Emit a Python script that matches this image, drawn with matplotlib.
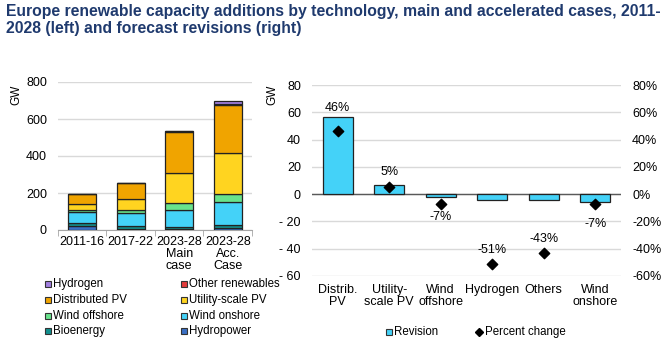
import matplotlib
matplotlib.use('Agg')
from matplotlib import pyplot as plt
from matplotlib.lines import Line2D
import numpy as np

plt.rcParams['font.family'] = ['Liberation Sans', 'DejaVu Sans']

# left chart: capacity additions (GW)
periods = ['2011-16', '2017-22', '2023-28\nMain\ncase', '2023-28\nAcc.\nCase']
hydropower = [22, 8, 6, 12]
bioenergy = [15, 14, 9, 16]
wind_onshore = [63, 72, 93, 123]
wind_offshore = [8, 16, 40, 44]
utility_pv = [32, 55, 162, 222]
distributed_pv = [55, 87, 222, 261]
other_renewables = [1, 1, 1, 2]
hydrogen = [0, 0, 0, 20]

# right chart: forecast revisions
rev_cats = ['Distrib.\nPV', 'Utility-\nscale PV', 'Wind\noffshore', 'Hydrogen', 'Others', 'Wind\nonshore']
revision = [56.5, 6.5, -2.2, -4, -4.5, -6]
pct_change = [46, 5, -7, -51, -43, -7]

series = [
    ('Hydropower', hydropower, '#3a6fc4'),
    ('Bioenergy', bioenergy, '#12908e'),
    ('Wind onshore', wind_onshore, '#44d2f8'),
    ('Wind offshore', wind_offshore, '#68e38c'),
    ('Utility-scale PV', utility_pv, '#ffd420'),
    ('Distributed PV', distributed_pv, '#f0a400'),
    ('Other renewables', other_renewables, '#e23b3b'),
    ('Hydrogen', hydrogen, '#a27fe0'),
]

W, H = 666, 348
fig = plt.figure(figsize=(6.66, 3.48), dpi=100)

fig.text(6/W, 1-4/H, 'Europe renewable capacity additions by technology, main and accelerated cases, 2011-\n'
         '2028 (left) and forecast revisions (right)',
         fontsize=11.3, fontweight='bold', color='#1f3a6e', va='top', ha='left', linespacing=1.2)

# ---- left
ax1 = fig.add_axes([58/W, 1-230/H, (252-58)/W, (230-82)/H])
x = np.arange(len(periods))
bottom = np.zeros(len(periods))
colors = {}
for name, vals, col in series:
    ax1.bar(x, vals, 0.58, bottom=bottom, color=col, edgecolor='#222222', linewidth=0.9, zorder=3)
    bottom += np.array(vals)
    colors[name] = col
ax1.set_ylim(0, 800)
ax1.set_xlim(-0.5, 3.5)
ax1.set_yticks([0, 200, 400, 600, 800])
ax1.yaxis.grid(True, color='#d9d9d9', linewidth=1)
ax1.set_axisbelow(True)
for s in ['top', 'right', 'left']:
    ax1.spines[s].set_visible(False)
ax1.spines['bottom'].set_color('#a6a6a6')
ax1.set_xticks(x)
ax1.set_xticklabels(periods, fontsize=9, linespacing=1.0)
ax1.tick_params(axis='x', length=0, pad=4)
ax1.set_xticks(np.arange(-0.5, 4, 1), minor=True)
ax1.tick_params(axis='x', which='minor', length=4, color='#a6a6a6')
ax1.tick_params(axis='y', length=0, labelsize=9, pad=8)
fig.text(16/W, 1-95/H, 'GW', rotation=90, fontsize=8.5, ha='center', va='center')


def legend_item(px, py, label, marker, face, ms):
    fig.add_artist(Line2D([px/W], [1-py/H], marker=marker, linestyle='none', markersize=ms,
                          markerfacecolor=face, markeredgecolor='#333333', markeredgewidth=0.8,
                          transform=fig.transFigure))
    fig.text((px+5)/W, 1-py/H, label, fontsize=8.3, ha='left', va='center')


col1 = ['Hydrogen', 'Distributed PV', 'Wind offshore', 'Bioenergy']
col2 = ['Other renewables', 'Utility-scale PV', 'Wind onshore', 'Hydropower']
for i, (a, b) in enumerate(zip(col1, col2)):
    py = 284 + i*15.8
    legend_item(48, py, a, 's', colors[a], 4)
    legend_item(184, py, b, 's', colors[b], 4)

# ---- right
ax2 = fig.add_axes([312/W, 1-276/H, (621-312)/W, (276-85)/H])
xr = np.arange(len(rev_cats))
ax2.bar(xr, revision, 0.58, color='#44d2f8', edgecolor='#222222', linewidth=0.9, zorder=3)
ax2.set_xlim(-0.5, 5.5)
ax2.set_ylim(-60, 80)
ax2.set_yticks(range(-60, 81, 20))
ax2.set_yticklabels(['- 60', '- 40', '- 20', '0', '20', '40', '60', '80'])
ax2.yaxis.grid(True, color='#d9d9d9', linewidth=1)
ax2.set_axisbelow(True)
ax2.axhline(0, color='#595959', linewidth=1, zorder=2)
for s in ax2.spines.values():
    s.set_visible(False)
ax2.set_xticks(xr)
ax2.set_xticklabels(rev_cats, fontsize=9, linespacing=1.0)
ax2.tick_params(axis='x', length=0, pad=6)
ax2.tick_params(axis='y', length=0, labelsize=9, pad=8)
fig.text(272/W, 1-95/H, 'GW', rotation=90, fontsize=8.5, ha='center', va='center')

ax3 = ax2.twinx()
ax3.set_ylim(-60, 80)
ax3.set_yticks(range(-60, 81, 20))
ax3.set_yticklabels(['{}%'.format(v) for v in range(-60, 81, 20)])
ax3.tick_params(axis='y', length=0, labelsize=9, pad=8)
for s in ax3.spines.values():
    s.set_visible(False)
ax3.scatter(xr, pct_change, marker='D', s=28, color='black', zorder=5)
label_offsets = [17, 11, -9.6, 10, 10, -14.7]
for xi, p, off in zip(xr, pct_change, label_offsets):
    ax3.annotate('{}%'.format(p), (xi, p), xytext=(0, off), textcoords='offset points',
                 ha='center', va='center', fontsize=9)

legend_item(389, 332, 'Revision', 's', '#44d2f8', 4)
fig.add_artist(Line2D([479/W], [1-332/H], marker='D', linestyle='none', markersize=3.6,
                      color='black', transform=fig.transFigure))
fig.text(485/W, 1-332/H, 'Percent change', fontsize=8.3, ha='left', va='center')

fig.savefig('out.png', dpi=100)
